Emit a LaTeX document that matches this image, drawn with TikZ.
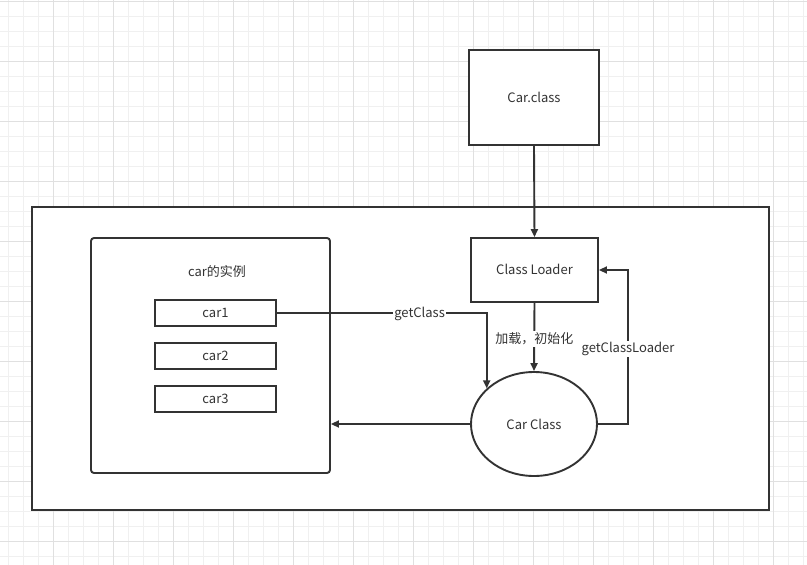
\documentclass[tikz,border=0pt]{standalone}
\usepackage{fontspec}
\setmainfont{Noto Sans CJK SC}
\usetikzlibrary{arrows.meta,shapes.geometric}
\definecolor{ink}{HTML}{333333}
\definecolor{gridminor}{HTML}{F0F0F0}
\definecolor{gridmajor}{HTML}{E0E0E0}
\tikzset{
  line/.style={draw=ink,line width=1.9pt},
  arr/.style={line,-{Triangle[length=8pt,width=7pt]}},
  box/.style={draw=ink,line width=1.9pt,fill=white,text=ink,font=\fontsize{13}{15}\selectfont,inner sep=0pt},
  lbl/.style={fill=white,text=ink,font=\fontsize{13}{15}\selectfont,inner sep=1.5pt,yshift=-2pt}
}
\begin{document}
\begin{tikzpicture}[x=1pt,y=-1pt]
\useasboundingbox (0,0) rectangle (807,565);
\fill[white] (0,0) rectangle (807,565);
% grid
\foreach \x in {8.3,23.3,...,807}{\draw[gridminor,line width=0.8pt] (\x,0) -- (\x,565);}
\foreach \y in {1,16,...,565}{\draw[gridminor,line width=0.8pt] (0,\y) -- (807,\y);}
\foreach \x in {53.3,113.3,...,807}{\draw[gridmajor,line width=0.8pt] (\x,0) -- (\x,565);}
\foreach \y in {1,61,...,565}{\draw[gridmajor,line width=0.8pt] (0,\y) -- (807,\y);}
% outer frame
\node[box,minimum width=737pt,minimum height=303pt] (frame) at (400.5,358.5) {};
% nodes
\node[box,minimum width=130pt,minimum height=95pt] (carclass) at (534,97.5) {Car.class};
\node[box,minimum width=127pt,minimum height=64pt,text depth=2pt] (cl) at (534.5,270) {Class Loader};
\node[box,rounded corners=3pt,minimum width=239pt,minimum height=235pt] (inst) at (210.5,355.5) {};
\node[text=ink,font=\fontsize{13}{15}\selectfont] (instlbl) at (217,272) {car的实例};
\node[box,minimum width=121pt,minimum height=26pt] (car1) at (215.5,313) {car1};
\node[box,minimum width=121pt,minimum height=26pt] (car2) at (215.5,356) {car2};
\node[box,minimum width=121pt,minimum height=26pt] (car3) at (215.5,399) {car3};
\node[box,ellipse,minimum width=126pt,minimum height=104pt] (cc) at (534,424) {Car Class};
\coordinate (rc) at (628,424);
% connectors
\draw[arr] (carclass.south) -- (cl.north);
\draw[arr] (car1.east) -| node[lbl,pos=0.34,yshift=1pt] {getClass} (cc.143);
\draw[arr] (cl.south) -- node[lbl] {加载，初始化} (cc.north);
\draw[arr] (cc.east) -- (rc) |- node[lbl,pos=0.25] {getClassLoader} (cl.east);
\draw[arr] (cc.west) -- (cc.west -| inst.east);
\end{tikzpicture}
\end{document}
